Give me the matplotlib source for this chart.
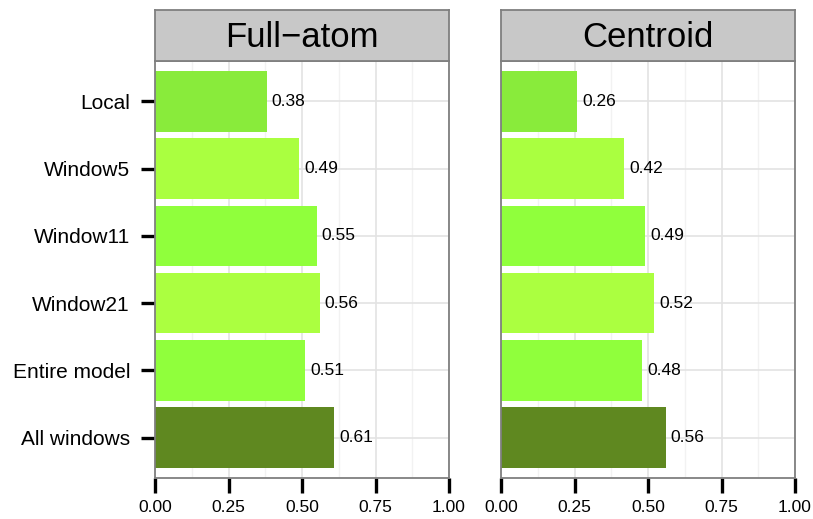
import matplotlib
matplotlib.use("Agg")
import matplotlib.pyplot as plt
import numpy as np

plt.rcParams['font.family'] = ['Liberation Sans', 'DejaVu Sans']

categories = ["Local", "Window5", "Window11", "Window21", "Entire model", "All windows"]
full_atom = [0.38, 0.49, 0.55, 0.56, 0.51, 0.61]
centroid = [0.26, 0.42, 0.49, 0.52, 0.48, 0.56]
panels = ["Full\u2212atom", "Centroid"]
bar_colors = ["#89EB3B", "#AAFF40", "#90FF3C", "#ABFF40", "#90FF3C", "#5F8820"]
xticks = [0.0, 0.25, 0.5, 0.75, 1.0]
xticklabels = ["0.00", "0.25", "0.50", "0.75", "1.00"]

W, H = 813, 519
fig = plt.figure(figsize=(W / 100, H / 100), dpi=100)

panel_x = [(155, 449), (501, 795)]
py0, py1 = 61, 478
sy0 = 10

ypos = np.arange(len(categories))[::-1]  # Local at top

for i, (vals, title) in enumerate(zip([full_atom, centroid], panels)):
    x0, x1 = panel_x[i]
    ax = fig.add_axes([x0 / W, 1 - py1 / H, (x1 - x0) / W, (py1 - py0) / H])
    ax.set_xlim(0, 1)
    ax.set_ylim(-0.6, len(categories) - 1 + 0.6)
    # grid
    for m in [0.125, 0.375, 0.625, 0.875]:
        ax.axvline(m, color="#F2F2F2", lw=1.0, zorder=0)
    for m in xticks:
        ax.axvline(m, color="#E3E3E3", lw=1.2, zorder=0)
    for y in ypos:
        ax.axhline(y, color="#E3E3E3", lw=1.2, zorder=0)
    ax.barh(ypos, vals, height=0.9, color=bar_colors, zorder=2)
    for y, v in zip(ypos, vals):
        ax.text(v + 0.017, y, f"{v:.2f}", va="center", ha="left", fontsize=12.5, zorder=3)
    ax.set_xticks(xticks)
    ax.set_xticklabels(xticklabels, fontsize=12.5)
    ax.tick_params(axis="x", length=11, width=2.4, color="black", pad=5)
    if i == 0:
        ax.set_yticks(ypos)
        ax.set_yticklabels(categories, fontsize=15)
        ax.tick_params(axis="y", length=10, width=2.4, color="black", pad=8)
    else:
        ax.set_yticks([])
    for s in ax.spines.values():
        s.set_color("#7F7F7F")
        s.set_linewidth(1.3)
    # strip
    sax = fig.add_axes([x0 / W, 1 - py0 / H, (x1 - x0) / W, (py0 - sy0) / H])
    sax.set_facecolor("#C8C8C8")
    sax.set_xticks([])
    sax.set_yticks([])
    for s in sax.spines.values():
        s.set_color("#7F7F7F")
        s.set_linewidth(1.3)
    sax.text(0.5, 0.47, title, ha="center", va="center", fontsize=25, transform=sax.transAxes)

fig.savefig("out.png", dpi=100)
